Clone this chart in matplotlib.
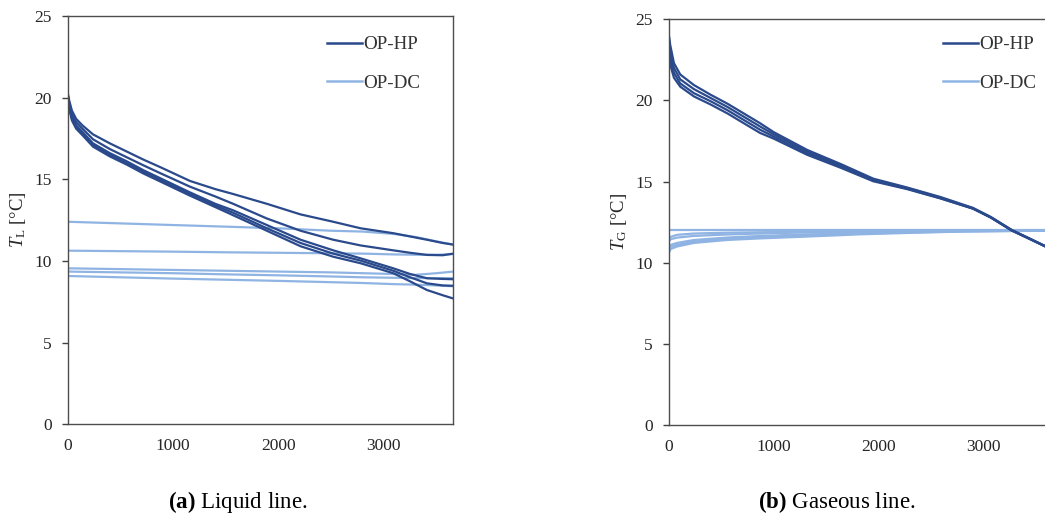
import numpy as np
import matplotlib
matplotlib.use("Agg")
import matplotlib.pyplot as plt

plt.rcParams['font.family'] = ['Liberation Serif', 'DejaVu Serif']
plt.rcParams['mathtext.fontset'] = 'custom'
plt.rcParams['mathtext.rm'] = 'Liberation Serif'
plt.rcParams['mathtext.it'] = 'Liberation Serif:italic'
plt.rcParams['mathtext.bf'] = 'Liberation Serif:bold'

HP_COLOR = '#2a4a8c'
DC_COLOR = '#8fb4e3'

# ---- (a) liquid line: time [s] vs T_L [degC] ----
liq_hp_t = [0, 15, 40, 80, 140, 240, 400, 560, 720, 880, 1160, 1400, 1570, 1890, 2210, 2520, 2780, 3090, 3250, 3410, 3560, 3660]
liq_hp_1 = [20.3, 19.8, 19.2, 18.7, 18.3, 17.75, 17.2, 16.7, 16.2, 15.74, 14.9, 14.4, 14.1, 13.5, 12.85, 12.4, 12.0, 11.7, 11.5, 11.3, 11.1, 11.0]
liq_hp_2 = [20.2, 19.6, 19.0, 18.5, 18.1, 17.45, 16.85, 16.35, 15.85, 15.37, 14.55, 13.95, 13.5, 12.6, 11.85, 11.3, 10.95, 10.65, 10.5, 10.37, 10.35, 10.45]
liq_hp_3 = [20.2, 19.5, 18.8, 18.3, 17.9, 17.2, 16.6, 16.1, 15.55, 15.06, 14.2, 13.5, 13.1, 12.2, 11.3, 10.65, 10.16, 9.55, 9.2, 8.94, 8.9, 8.88]
liq_hp_4 = [20.1, 19.4, 18.7, 18.2, 17.8, 17.1, 16.5, 16.0, 15.45, 14.96, 14.1, 13.4, 12.95, 12.0, 11.1, 10.45, 10.02, 9.4, 9.0, 8.63, 8.5, 8.48]
liq_hp_5 = [20.0, 19.3, 18.6, 18.1, 17.7, 17.0, 16.4, 15.9, 15.35, 14.86, 14.0, 13.3, 12.8, 11.85, 10.9, 10.26, 9.86, 9.25, 8.75, 8.22, 7.9, 7.7]

liq_dc_t = [0, 500, 1000, 1500, 2000, 2500, 2800, 3100, 3300, 3500, 3660]
liq_dc_1 = [12.4, 12.3, 12.2, 12.1, 12.0, 11.85, 11.8, 11.65, 11.47, 11.2, 11.0]
liq_dc_2 = [10.63, 10.6, 10.57, 10.53, 10.5, 10.47, 10.45, 10.4, 10.38, 10.38, 10.42]
liq_dc_3 = [9.55, 9.5, 9.45, 9.4, 9.35, 9.3, 9.25, 9.2, 9.15, 9.25, 9.35]
liq_dc_4 = [9.35, 9.3, 9.25, 9.18, 9.12, 9.05, 9.0, 8.97, 8.95, 8.95, 8.95]
liq_dc_5 = [9.08, 9.0, 8.92, 8.85, 8.78, 8.7, 8.65, 8.58, 8.55, 8.5, 8.45]

# ---- (b) gaseous line: time [s] vs T_G [degC] ----
gas_hp_t = [0, 15, 50, 110, 240, 400, 560, 870, 1000, 1320, 1640, 1950, 2270, 2590, 2900, 3070, 3270, 3450, 3660]
gas_hp_1 = [24.1, 23.4, 22.3, 21.6, 20.95, 20.35, 19.8, 18.6, 18.05, 16.95, 16.08, 15.18, 14.64, 14.05, 13.38, 12.82, 12.02, 11.46, 10.8]
gas_hp_2 = [24.0, 23.0, 22.0, 21.3, 20.7, 20.15, 19.6, 18.4, 17.92, 16.85, 16.0, 15.12, 14.6, 14.0, 13.35, 12.8, 12.0, 11.45, 10.8]
gas_hp_3 = [23.8, 22.6, 21.7, 21.05, 20.45, 19.95, 19.4, 18.2, 17.78, 16.75, 15.92, 15.07, 14.57, 13.98, 13.34, 12.79, 11.99, 11.44, 10.79]
gas_hp_4 = [23.6, 22.2, 21.4, 20.85, 20.25, 19.75, 19.2, 18.0, 17.65, 16.65, 15.85, 15.02, 14.54, 13.96, 13.33, 12.78, 11.98, 11.43, 10.78]

gas_dc_t = [0, 20, 80, 240, 550, 870, 1190, 1500, 1820, 2300, 2800, 3660]
gas_dc_1 = [12.0, 12.0, 12.0, 12.0, 12.0, 12.0, 12.0, 12.0, 12.0, 12.0, 12.0, 12.0]
gas_dc_2 = [11.45, 11.6, 11.72, 11.8, 11.85, 11.88, 11.9, 11.92, 11.94, 11.96, 11.98, 12.0]
gas_dc_3 = [11.3, 11.45, 11.55, 11.65, 11.74, 11.8, 11.85, 11.88, 11.91, 11.95, 11.98, 12.0]
gas_dc_4 = [10.95, 11.1, 11.22, 11.4, 11.55, 11.65, 11.72, 11.78, 11.84, 11.9, 11.95, 11.99]
gas_dc_5 = [10.8, 10.98, 11.1, 11.3, 11.47, 11.57, 11.65, 11.72, 11.79, 11.87, 11.93, 11.98]
gas_dc_6 = [10.6, 10.85, 11.0, 11.22, 11.4, 11.5, 11.58, 11.66, 11.75, 11.84, 11.92, 11.98]

x_ticks = [0, 1000, 2000, 3000]
y_ticks = [0, 5, 10, 15, 20, 25]
x_max = 3660

fig = plt.figure(figsize=(10.45, 5.22), dpi=100)
ax1 = fig.add_axes([0.0648, 0.1872, 0.3690, 0.7822])
ax2 = fig.add_axes([0.6399, 0.1858, 0.3675, 0.7772])


def style_axes(ax, ylabel):
    ax.set_xlim(0, x_max)
    ax.set_ylim(0, 25)
    ax.set_xticks(x_ticks)
    ax.set_yticks(y_ticks)
    ax.tick_params(axis='x', length=0, pad=10, labelsize=12.5, labelcolor='#262626')
    ax.tick_params(axis='y', length=4.3, width=1.0, pad=7, labelsize=12.5,
                   labelcolor='#262626', color='#404040')
    for s in ax.spines.values():
        s.set_color('#4d4d4d')
        s.set_linewidth(1.0)
    ax.set_ylabel(ylabel, fontsize=13.5, color='#262626')
    ax.yaxis.set_label_coords(-0.103, 0.5)


# (a)
for y in [liq_dc_1, liq_dc_2, liq_dc_3, liq_dc_4, liq_dc_5]:
    ax1.plot(liq_dc_t, y, color=DC_COLOR, lw=1.6)
for y in [liq_hp_1, liq_hp_2, liq_hp_3, liq_hp_4, liq_hp_5]:
    ax1.plot(liq_hp_t, y, color=HP_COLOR, lw=1.6)
style_axes(ax1, r'$T_\mathrm{L}$ [°C]')

# (b)
for y in [gas_dc_1, gas_dc_2, gas_dc_3, gas_dc_4, gas_dc_5, gas_dc_6]:
    ax2.plot(gas_dc_t, y, color=DC_COLOR, lw=1.6)
for y in [gas_hp_1, gas_hp_2, gas_hp_3, gas_hp_4]:
    ax2.plot(gas_hp_t, y, color=HP_COLOR, lw=1.6)
style_axes(ax2, r'$T_\mathrm{G}$ [°C]')

# legends
for ax, x0 in [(ax1, 327), (ax2, 943)]:
    h1, = ax.plot([], [], color=HP_COLOR, lw=1.8)
    h2, = ax.plot([], [], color=DC_COLOR, lw=1.8)
    ax.legend([h1, h2], ['OP-HP', 'OP-DC'], loc='upper left',
              bbox_to_anchor=(x0 / 1045, 1 - 36 / 522), bbox_transform=fig.transFigure,
              frameon=False, fontsize=13.7, handlelength=1.85, handletextpad=0.05,
              labelspacing=1.1, borderpad=0, borderaxespad=0, labelcolor='#333333')

# captions
fig.text(238 / 1045, 1 - 502 / 522, r'$\mathbf{(a)}$ Liquid line.', ha='center', va='center',
         fontsize=16.5)
fig.text(837 / 1045, 1 - 502 / 522, r'$\mathbf{(b)}$ Gaseous line.', ha='center', va='center',
         fontsize=16.5)

fig.savefig('out.png', dpi=100)
